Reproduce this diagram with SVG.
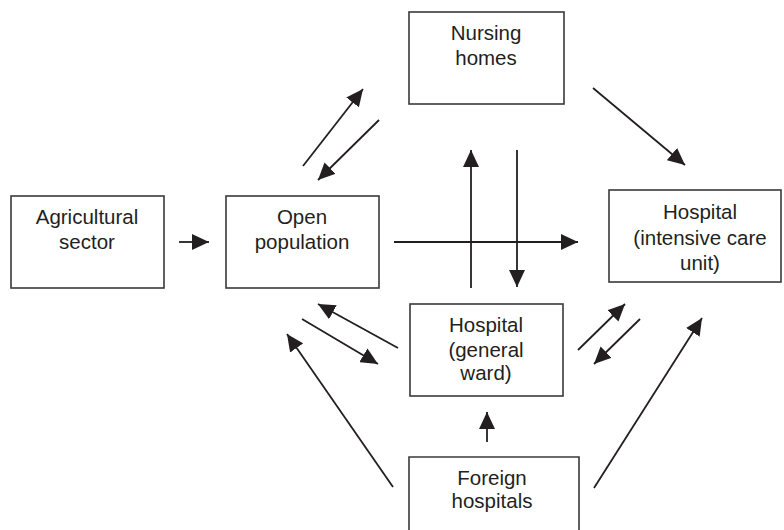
<svg xmlns="http://www.w3.org/2000/svg" width="784" height="530" viewBox="0 0 784 530">
<defs>
<marker id="ah" markerUnits="userSpaceOnUse" markerWidth="17" markerHeight="16" viewBox="0 0 17 16" refX="17" refY="8" orient="auto">
<path d="M0,0 L17,8 L0,16 z" fill="#231f20"/>
</marker>
<style>
.box{fill:#fff;stroke:#3a3a3a;stroke-width:1.6}
.lbl{font-family:"Liberation Sans",Arial,sans-serif;font-size:20.5px;fill:#231f20;text-anchor:middle}
.c{stroke:#231f20;stroke-width:1.8;fill:none;marker-end:url(#ah)}
</style>
</defs>
<rect width="784" height="530" fill="#fff"/>
<g id="agricultural">
<rect class="box" x="11" y="196" width="153" height="92"/>
<text class="lbl" x="87" y="224">Agricultural</text>
<text class="lbl" x="87" y="249">sector</text>
</g>
<g id="open">
<rect class="box" x="226" y="196" width="153" height="92"/>
<text class="lbl" x="302" y="224">Open</text>
<text class="lbl" x="302" y="249">population</text>
</g>
<g id="nursing">
<rect class="box" x="409" y="12" width="155" height="92"/>
<text class="lbl" x="486" y="40">Nursing</text>
<text class="lbl" x="486" y="65">homes</text>
</g>
<g id="icu">
<rect class="box" x="609" y="190" width="172" height="92"/>
<text class="lbl" x="700" y="219">Hospital</text>
<text class="lbl" x="700" y="245">(intensive care</text>
<text class="lbl" x="700" y="270">unit)</text>
</g>
<g id="general">
<rect class="box" x="410" y="304" width="153" height="92"/>
<text class="lbl" x="486" y="332">Hospital</text>
<text class="lbl" x="486" y="357">(general</text>
<text class="lbl" x="486" y="380">ward)</text>
</g>
<g id="foreign">
<path class="box" d="M409,532 V457 H579 V532"/>
<text class="lbl" x="492" y="485">Foreign</text>
<text class="lbl" x="492" y="508">hospitals</text>
</g>
<g id="connectors">
<line class="c" x1="179" y1="242" x2="209" y2="242"/>
<line class="c" x1="394" y1="242" x2="578" y2="242"/>
<line class="c" x1="471" y1="288" x2="471" y2="150"/>
<line class="c" x1="517" y1="150" x2="517" y2="287"/>
<line class="c" x1="303" y1="166" x2="363" y2="89"/>
<line class="c" x1="379" y1="120" x2="318" y2="180"/>
<line class="c" x1="593" y1="88" x2="685" y2="165"/>
<line class="c" x1="398" y1="348" x2="318" y2="304"/>
<line class="c" x1="302" y1="319" x2="378" y2="364"/>
<line class="c" x1="393" y1="487" x2="287" y2="334"/>
<line class="c" x1="487" y1="442" x2="487" y2="412"/>
<line class="c" x1="578" y1="350" x2="625" y2="304"/>
<line class="c" x1="640" y1="319" x2="594" y2="364"/>
<line class="c" x1="594" y1="488" x2="702" y2="318"/>
</g>
</svg>
